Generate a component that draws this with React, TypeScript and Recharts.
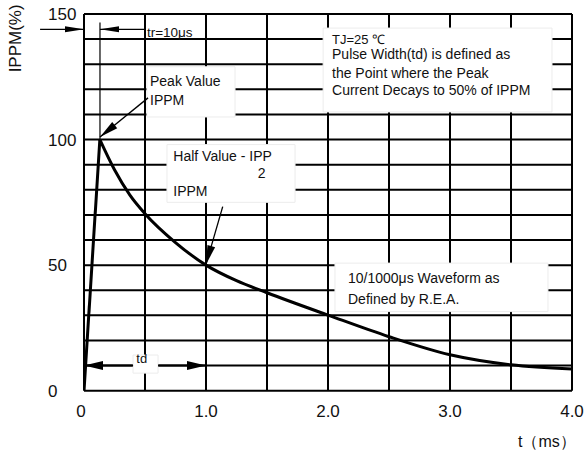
import React from "react";
import {
  LineChart,
  Line,
  XAxis,
  YAxis,
  CartesianGrid,
  ReferenceLine,
  ReferenceArea,
  ReferenceDot,
} from "recharts";

// ---- data ----
const riseTime = [0, 0.13];
const riseValue = [0, 100];

const decayTime = [0.13, 0.25, 0.375, 0.5, 0.75, 1.0, 1.25, 1.5, 2.0, 2.5, 3.0, 3.5, 4.0];
const decayValue = [100, 88, 78, 70.5, 59, 50, 43.8, 39, 30.1, 21.5, 14.3, 10.3, 8.6];

const xTicks = [0, 0.5, 1.0, 1.5, 2.0, 2.5, 3.0, 3.5, 4.0];
const xTickLabels = ["0", "", "1.0", "", "2.0", "", "3.0", "", "4.0"];
const yTicks = [0, 10, 20, 30, 40, 50, 60, 70, 80, 90, 100, 110, 120, 130, 140, 150];
const yTickLabels = ["0", "", "", "", "", "50", "", "", "", "", "100", "", "", "", "", "150"];

const riseData = riseTime.map((t, i) => ({ t, v: riseValue[i] }));
const decayData = decayTime.map((t, i) => ({ t, v: decayValue[i] }));

const FONT = "'Liberation Sans', Arial, sans-serif";

// white annotation boxes (data coords)
const boxes = [
  { x1: 0.516, x2: 1.238, y1: 109, y2: 129 },
  { x1: 0.68, x2: 1.73, y1: 75, y2: 98 },
  { x1: 1.96, x2: 3.836, y1: 111, y2: 144.4 },
  { x1: 2.057, x2: 3.803, y1: 31.5, y2: 50.8 },
  { x1: 0.402, x2: 0.607, y1: 7.0, y2: 14.2 },
];

// annotation texts (data coords of text anchor / baseline)
const notes = [
  { t: 0.516, v: 141.0, text: "tr=10μs", anchor: "start", size: 13.5 },
  { t: 0.541, v: 121.4, text: "Peak Value", anchor: "start", size: 14 },
  { t: 0.541, v: 113.6, text: "IPPM", anchor: "start", size: 14 },
  { t: 0.732, v: 91.5, text: "Half Value - IPP", anchor: "start", size: 14 },
  { t: 1.456, v: 84.7, text: "2", anchor: "middle", size: 14 },
  { t: 0.732, v: 77.5, text: "IPPM", anchor: "start", size: 14 },
  { t: 2.033, v: 138.0, text: "TJ=25 ℃", anchor: "start", size: 13 },
  { t: 2.033, v: 131.9, text: "Pulse Width(td) is defined as", anchor: "start", size: 14 },
  { t: 2.033, v: 124.7, text: "the Point where the Peak", anchor: "start", size: 14 },
  { t: 2.033, v: 117.6, text: "Current Decays to 50% of IPPM", anchor: "start", size: 14 },
  { t: 2.164, v: 42.9, text: "10/1000μs Waveform as", anchor: "start", size: 14 },
  { t: 2.164, v: 34.5, text: "Defined by R.E.A.", anchor: "start", size: 14 },
  { t: 0.473, v: 11.0, text: "td", anchor: "middle", size: 13 },
  { t: 3.557, v: -22.6, text: "t（ms）", anchor: "start", size: 16 },
];

// arrows: segment in data coords, heads
const arrows = [
  { a: { x: -0.36, y: 143.9 }, b: { x: 0, y: 143.9 }, start: false, end: true, w: 3, sw: 1.3 },
  { a: { x: 0.5, y: 143.9 }, b: { x: 0.131, y: 143.9 }, start: false, end: true, w: 3, sw: 1.3 },
  { a: { x: 0.131, y: 146.6 }, b: { x: 0.131, y: 100.2 }, start: false, end: false, w: 0, sw: 1.2 },
  { a: { x: 0.525, y: 116.6 }, b: { x: 0.131, y: 101 }, start: false, end: true, w: 4, sw: 1.3 },
  { a: { x: 1.137, y: 73.3 }, b: { x: 1.0, y: 50.3 }, start: false, end: true, w: 4, sw: 1.3 },
  { a: { x: 0.402, y: 10 }, b: { x: 0, y: 10 }, start: false, end: true, w: 4.5, sw: 2 },
  { a: { x: 0.607, y: 10 }, b: { x: 1.0, y: 10 }, start: false, end: true, w: 4.5, sw: 2 },
];

const makeArrow = (hs: boolean, he: boolean, w: number, sw: number) => (p: any) => {
  const { x1, y1, x2, y2 } = p;
  const dx = x2 - x1;
  const dy = y2 - y1;
  const len = Math.sqrt(dx * dx + dy * dy) || 1;
  const ux = dx / len;
  const uy = dy / len;
  const L = 19;
  const head = (tx: number, ty: number, dirx: number, diry: number) => {
    const bx = tx - dirx * L;
    const by = ty - diry * L;
    const nx = -diry * w;
    const ny = dirx * w;
    return `${tx},${ty} ${bx + nx},${by + ny} ${bx - nx},${by - ny}`;
  };
  return (
    <g>
      <line x1={x1} y1={y1} x2={x2} y2={y2} stroke="#000" strokeWidth={sw} />
      {he && <polygon points={head(x2, y2, ux, uy)} fill="#000" />}
      {hs && <polygon points={head(x1, y1, -ux, -uy)} fill="#000" />}
    </g>
  );
};

const makeText = (text: string, anchor: string, size: number) => (p: any) => (
  <text
    x={p.cx}
    y={p.cy}
    textAnchor={anchor}
    fontSize={size}
    fontFamily={FONT}
    fill="#111"
  >
    {text}
  </text>
);

const yTitle = (p: any) => (
  <text
    x={p.cx}
    y={p.cy}
    textAnchor="middle"
    fontSize={17}
    fontFamily={FONT}
    fill="#111"
    transform={`rotate(-90, ${p.cx}, ${p.cy})`}
  >
    IPPM(%)
  </text>
);

const XTick = (p: any) => {
  const i = xTicks.indexOf(p.payload.value);
  const label = i >= 0 ? xTickLabels[i] : "";
  if (!label) return null;
  return (
    <text x={p.x - (i === 0 ? 3 : 0)} y={p.y + 20} dy="0.35em" textAnchor="middle" fontSize={17} fontFamily={FONT} fill="#111">
      {label}
    </text>
  );
};

const YTick = (p: any) => {
  const i = yTicks.indexOf(p.payload.value);
  const label = i >= 0 ? yTickLabels[i] : "";
  if (!label) return null;
  return (
    <text x={p.x - 36} y={p.y} dy="0.35em" textAnchor="start" fontSize={17} fontFamily={FONT} fill="#111">
      {label}
    </text>
  );
};

export default function App() {
  return (
    <div style={{ position: "absolute", left: 0, top: 0, width: 585, height: 455, background: "#fff" }}>
      <LineChart width={585} height={455} margin={{ top: 14, right: 13, left: 0, bottom: 0 }}>
        <CartesianGrid stroke="#000" strokeWidth={2} />
        <XAxis
          type="number"
          dataKey="t"
          domain={[0, 4]}
          ticks={xTicks}
          allowDataOverflow
          height={64.3}
          tickSize={0}
          tickMargin={0}
          axisLine={false}
          tickLine={false}
          tick={<XTick />}
          interval={0}
        />
        <YAxis
          type="number"
          domain={[0, 150]}
          ticks={yTicks}
          allowDataOverflow
          width={84}
          tickSize={0}
          tickMargin={0}
          axisLine={false}
          tickLine={false}
          tick={<YTick />}
          interval={0}
        />
        {boxes.map((b, i) => (
          <ReferenceArea
            key={"b" + i}
            x1={b.x1}
            x2={b.x2}
            y1={b.y1}
            y2={b.y2}
            fill="#fff"
            fillOpacity={1}
            stroke="#ececec"
            strokeWidth={1}
            ifOverflow="visible"
          />
        ))}
        <Line data={riseData} dataKey="v" type="linear" stroke="#000" strokeWidth={3} dot={false} isAnimationActive={false} />
        <Line data={decayData} dataKey="v" type="monotone" stroke="#000" strokeWidth={3} dot={false} isAnimationActive={false} />
        {arrows.map((a, i) => (
          <ReferenceLine
            key={"a" + i}
            segment={[a.a, a.b]}
            ifOverflow="visible"
            stroke="#000"
            shape={makeArrow(a.start, a.end, a.w, a.sw)}
          />
        ))}
        {notes.map((n, i) => (
          <ReferenceDot
            key={"n" + i}
            x={n.t}
            y={n.v}
            r={0}
            ifOverflow="visible"
            shape={makeText(n.text, n.anchor, n.size)}
          />
        ))}
        <ReferenceDot x={-0.52} y={140.3} r={0} ifOverflow="visible" shape={yTitle} />
      </LineChart>
    </div>
  );
}
